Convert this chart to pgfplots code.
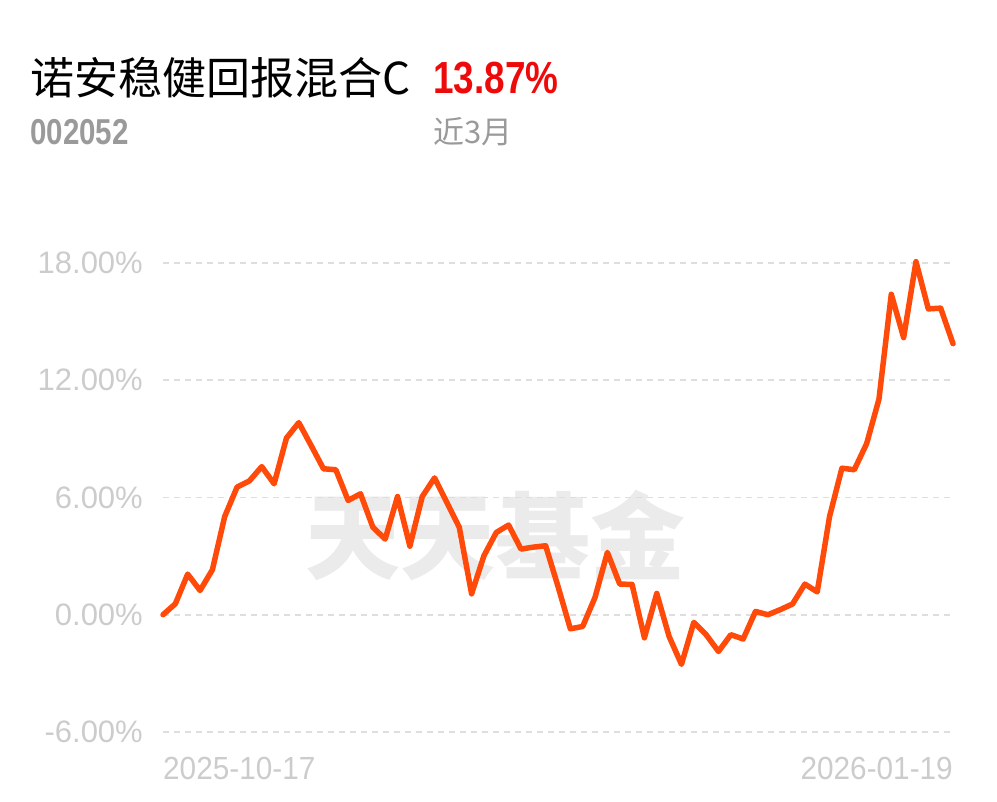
\documentclass[border=0pt]{standalone}
\usepackage{pgfplots}
\pgfplotsset{compat=1.18}
\usepackage{fontspec}
\setmainfont{Liberation Sans}
\newfontfamily\cjk{Noto Sans CJK SC}
\newfontfamily\cond[FakeStretch=0.82]{Liberation Sans}
\newfontfamily\datef[FakeStretch=0.93]{Liberation Sans}
\definecolor{lineor}{HTML}{FF4A0A}
\definecolor{titlered}{HTML}{EE0A0A}
\definecolor{subgray}{HTML}{9A9A9A}
\definecolor{ticklbl}{HTML}{CCCCCC}
\definecolor{gridc}{HTML}{DEDEDE}
\definecolor{wmark}{HTML}{EBEBEB}
\begin{document}
\begin{tikzpicture}[x=1bp,y=1bp]
\path (0,0) rectangle (997,802);
\node[inner sep=0pt, text=wmark] at (495,266) {\cjk\bfseries\fontsize{95bp}{95bp}\selectfont 天天基金};
\node[inner sep=0pt, anchor=west] at (30,724) {\cjk\fontsize{44bp}{44bp}\selectfont 诺安稳健回报混合C};
\node[inner sep=0pt, anchor=west, text=titlered] at (433,724) {\cond\bfseries\fontsize{45bp}{45bp}\selectfont 13.87\%};
\node[inner sep=0pt, anchor=west, text=subgray] at (30,670) {\cond\bfseries\fontsize{36bp}{36bp}\selectfont 002052};
\node[inner sep=0pt, anchor=west, text=subgray] at (433,670) {\cjk\fontsize{31bp}{31bp}\selectfont 近3月};
\begin{axis}[
  at={(163bp,70bp)}, anchor=south west,
  scale only axis, width=790bp, height=469bp,
  xmin=0, xmax=64, ymin=-6, ymax=18,
  clip=false,
  axis line style={draw=none},
  xtick=\empty,
  ytick={-6,0,6,12,18},
  yticklabels={-6.00\%,0.00\%,6.00\%,12.00\%,18.00\%},
  major tick length=0pt,
  ytick style={draw=none},
  yticklabel style={inner sep=0pt, anchor=east, xshift=-20bp, text=ticklbl, font=\fontsize{31bp}{31bp}\selectfont},
  ymajorgrids,
  major grid style={draw=gridc, line width=1.6bp, dash pattern=on 6bp off 5bp},
]
\addplot[lineor, line width=5.5bp, line join=round, line cap=round] table {
x y
0 0
1 0.56
2 2.08
3 1.24
4 2.30
5 5.03
6 6.53
7 6.85
8 7.58
9 6.70
10 9.04
11 9.83
12 8.66
13 7.47
14 7.42
15 5.85
16 6.19
17 4.48
18 3.87
19 6.05
20 3.51
21 6.05
22 7.00
23 5.74
24 4.48
25 1.07
26 3.02
27 4.21
28 4.59
29 3.36
30 3.46
31 3.53
32 1.45
33 -0.72
34 -0.60
35 0.89
36 3.19
37 1.57
38 1.55
39 -1.18
40 1.09
41 -1.11
42 -2.54
43 -0.39
44 -1.02
45 -1.88
46 -1.02
47 -1.24
48 0.17
49 0.00
50 0.26
51 0.55
52 1.57
53 1.17
54 5.03
55 7.50
56 7.42
57 8.75
58 11.03
59 16.40
60 14.18
61 18.07
62 15.65
63 15.69
64 13.87
};
\node[inner sep=0pt, anchor=north west, text=ticklbl] at (axis cs:0,-6) [yshift=-25bp] {\datef\fontsize{32bp}{32bp}\selectfont 2025-10-17};
\node[inner sep=0pt, anchor=north east, text=ticklbl] at (axis cs:64,-6) [yshift=-25bp] {\datef\fontsize{32bp}{32bp}\selectfont 2026-01-19};
\end{axis}
\end{tikzpicture}
\end{document}
